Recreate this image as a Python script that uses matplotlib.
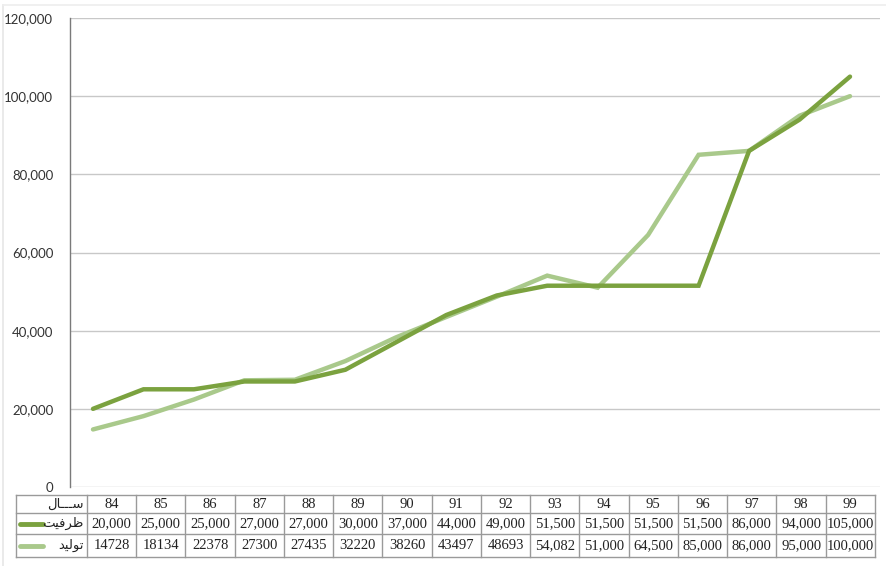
import matplotlib
matplotlib.use("Agg")
import matplotlib.pyplot as plt
from matplotlib.ticker import FuncFormatter

# ---- data ----
years = ["84", "85", "86", "87", "88", "89", "90", "91", "92", "93", "94", "95", "96", "97", "98", "99"]
capacity = [20000, 25000, 25000, 27000, 27000, 30000, 37000, 44000, 49000, 51500, 51500, 51500, 51500, 86000, 94000, 105000]
production = [14728, 18134, 22378, 27300, 27435, 32220, 38260, 43497, 48693, 54082, 51000, 64500, 85000, 86000, 95000, 100000]
capacity_labels = ["20,000", "25,000", "25,000", "27,000", "27,000", "30,000", "37,000", "44,000", "49,000",
                   "51,500", "51,500", "51,500", "51,500", "86,000", "94,000", "105,000"]
production_labels = ["14728", "18134", "22378", "27300", "27435", "32220", "38260", "43497", "48693",
                     "54,082", "51,000", "64,500", "85,000", "86,000", "95,000", "100,000"]
# Persian labels in presentation forms (visual order)
label_year = "\uFEDD\uFE8E\u0640\u0640\u0640\uFEB3"          # سـال
label_capacity = "\uFE96\uFEF4\uFED3\uFEAE\uFEC7"           # ظرفیت
label_production = "\uFEAA\uFEF4\uFEDF\uFEEE\uFE97"         # تولید

c_cap = "#7BA23F"
c_prod = "#A9C98B"

W, H = 887, 566
fig = plt.figure(figsize=(W / 100, H / 100), dpi=100)
fig.patch.set_facecolor("white")

def fx(px):
    return px / W

def fy(py):
    return 1 - py / H

# main axes
ax_l, ax_r, ax_t, ax_b = 70, 880, 18, 487
ax = fig.add_axes([fx(ax_l), fy(ax_b), fx(ax_r - ax_l), (ax_b - ax_t) / H])
x = list(range(len(years)))
ax.plot(x, capacity, color=c_cap, lw=3.2, solid_capstyle="round", solid_joinstyle="miter", zorder=3)
ax.plot(x, production, color=c_prod, lw=3.2, solid_capstyle="round", solid_joinstyle="miter", zorder=2)
step = 50.47
x0 = -(93 - ax_l) / step
x1 = 15 + (ax_r - 850) / step
ax.set_xlim(x0, x1)
ax.set_ylim(0, 120000)
ax.set_yticks(range(0, 120001, 20000))
ax.yaxis.set_major_formatter(FuncFormatter(lambda v, p: f"{int(v):,}"))
ax.set_xticks([])
ax.grid(axis="y", color="#C8C8C8", lw=1.0)
ax.set_axisbelow(True)
for s in ["top", "right", "bottom"]:
    ax.spines[s].set_visible(False)
ax.spines["left"].set_color("#7A7A7A")
ax.spines["left"].set_linewidth(1.0)
ax.tick_params(axis="y", length=0, pad=12, labelsize=9.5, labelcolor="#333333")
for lab in ax.get_yticklabels():
    lab.set_fontfamily("Lato")

# overlay axes in pixel coordinates for the table and border
ov = fig.add_axes([0, 0, 1, 1], zorder=-1)
ov.set_xlim(0, W)
ov.set_ylim(H, 0)
ov.axis("off")
ov.plot([3, 3], [5, H], color="#E6E6E6", lw=1.2)
ov.plot([3, W], [5, 5], color="#EEEEEE", lw=1.2)

tab = fig.add_axes([0, 0, 1, 1], zorder=5)
tab.set_xlim(0, W)
tab.set_ylim(H, 0)
tab.axis("off")
tab.patch.set_alpha(0)

tl, lab_r, tr = 16, 87, 875
rows = [495, 513, 534, 557]
n = len(years)
cw = (tr - lab_r) / n
bc = "#9A9A9A"
for ry in rows:
    tab.plot([tl, tr], [ry, ry], color=bc, lw=1.0)
tab.plot([tl, tl], [rows[0], rows[-1]], color=bc, lw=1.0)
for i in range(n + 1):
    xx = lab_r + i * cw
    tab.plot([xx, xx], [rows[0], rows[-1]], color=bc, lw=1.0)

serif = "Liberation Serif"
fs = 10.5
cy = [(rows[k] + rows[k + 1]) / 2 for k in range(3)]
for i in range(n):
    cx = lab_r + (i + 0.5) * cw
    tab.text(cx, cy[0], years[i], ha="center", va="center", fontsize=fs, family=serif, color="#222222")
    tab.text(cx, cy[1], capacity_labels[i], ha="center", va="center", fontsize=fs, family=serif, color="#222222")
    tab.text(cx, cy[2], production_labels[i], ha="center", va="center", fontsize=fs, family=serif, color="#222222")

tab.text(84, cy[0], label_year, ha="right", va="center", fontsize=9.5, family="DejaVu Sans", color="#222222")
tab.text(84, cy[1], label_capacity, ha="right", va="center", fontsize=9.5, family="DejaVu Sans", color="#222222")
tab.text(84, cy[2], label_production, ha="right", va="center", fontsize=9.5, family="DejaVu Sans", color="#222222")
tab.plot([20, 43], [cy[1], cy[1]], color=c_cap, lw=3.5, solid_capstyle="round")
tab.plot([20, 43], [cy[2], cy[2]], color=c_prod, lw=3.5, solid_capstyle="round")

fig.savefig("out.png", dpi=100)
